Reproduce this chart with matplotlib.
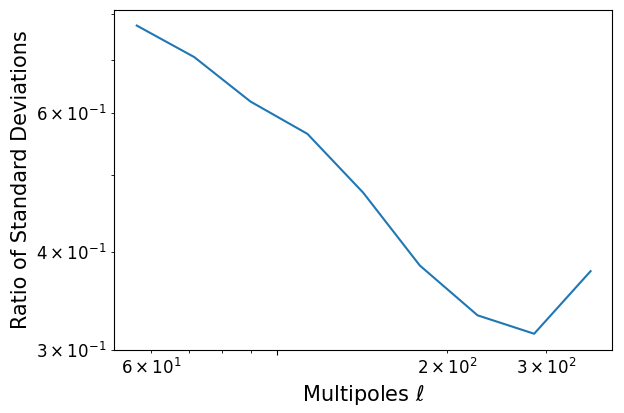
import matplotlib
matplotlib.use("Agg")
import matplotlib.pyplot as plt
import matplotlib.ticker as mticker

# multipole bin centres and ratio of standard deviations
ell = [56.5, 71.4, 89.8, 113.3, 142.2, 179.1, 226.6, 285.4, 359.2]
ratio = [0.774, 0.706, 0.620, 0.564, 0.475, 0.384, 0.332, 0.3146, 0.3777]

fig = plt.figure(figsize=(6.24, 4.13), dpi=100)
ax = fig.add_axes([0.1827, 0.1525, 0.7981, 0.8233])

ax.plot(ell, ratio, color="#1f77b4", linewidth=1.5)
ax.set_xscale("log")
ax.set_yscale("log")
ax.set_xlim(51.5, 392)
ax.set_ylim(0.3, 0.81)

# the 10^2 major label is blank in the original
ax.xaxis.set_major_formatter(mticker.NullFormatter())

ax.tick_params(axis="both", which="both", labelsize=12)
ax.set_xlabel(r"Multipoles $\ell$", fontsize=15)
ax.set_ylabel("Ratio of Standard Deviations", fontsize=15)

fig.savefig("out.png", dpi=100)
